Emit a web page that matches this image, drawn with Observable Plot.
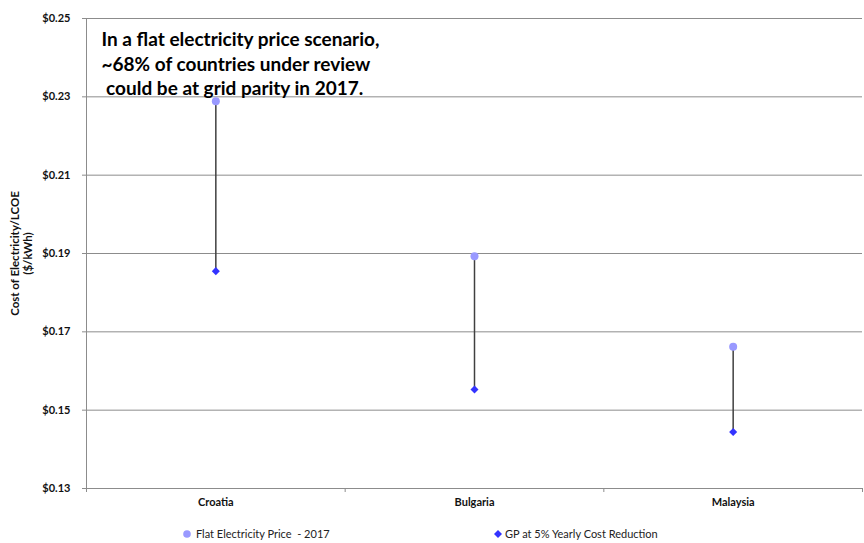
<!DOCTYPE html>
<html>
<head>
<meta charset="utf-8">
<script src="https://cdn.jsdelivr.net/npm/d3@7"></script>
<script src="https://cdn.jsdelivr.net/npm/@observablehq/plot@0.6"></script>
<style>
  body { margin: 0; background: #fff; font-family: Lato, "Open Sans", sans-serif; }
  #wrap { position: relative; width: 864px; }
  #legend { position: relative; width: 864px; height: 18px; font-size: 11px; color: #222; }
  #legend span { position: absolute; top: 0; line-height: 18px; white-space: pre; }
  .mk { display: inline-block; position: absolute; }
</style>
</head>
<body>
<div id="wrap"></div>
<div id="legend"></div>
<script>
const countries = ["Croatia", "Bulgaria", "Malaysia"];
const flatPrice2017 = [0.2289, 0.1893, 0.1662];
const gp5pct = [0.1855, 0.1553, 0.1444];
const yTicks = [0.13, 0.15, 0.17, 0.19, 0.21, 0.23, 0.25];
const seriesNames = ["Flat Electricity Price  - 2017", "GP at 5% Yearly Cost Reduction"];
const annotation = ["In a flat electricity price scenario,", "~68% of countries under review", "\u00a0could be at grid parity in 2017."];
const yLabel = ["Cost of Electricity/LCOE", "($/kWh)"];

const data = countries.map((c, i) => ({ i, country: c, flat: flatPrice2017[i], gp: gp5pct[i] }));
const bounds = d3.range(countries.length + 1).map(k => k - 0.5);

const chart = Plot.plot({
  width: 864,
  height: 525,
  marginLeft: 86,
  marginRight: 2,
  marginTop: 18,
  marginBottom: 37,
  style: { fontFamily: "Lato, sans-serif", fontSize: "11px", color: "#222", background: "#fff" },
  x: { type: "linear", domain: [-0.5, countries.length - 0.5] },
  y: { domain: [0.13, 0.25] },
  marks: [
    Plot.gridY(yTicks, { stroke: "#8c8c8c", strokeOpacity: 1, strokeWidth: 1 }),
    Plot.frame({ anchor: "left", stroke: "#8c8c8c" }),
    Plot.axisY(yTicks, { tickSize: 4, tickPadding: 12, tickFormat: d => "$" + d.toFixed(2), fontWeight: "bold", stroke: "#8c8c8c", label: null, fill: "#111" }),
    Plot.axisX(bounds, { tickSize: 4, stroke: "#8c8c8c", tickFormat: () => "", label: null }),
    Plot.axisX(data.map(d => d.i), { tickSize: 0, tickPadding: 10, tickFormat: i => countries[i], fontWeight: "bold", label: null, fill: "#111" }),
    Plot.ruleX(data, { x: "i", y1: "gp", y2: "flat", stroke: "#404040", strokeWidth: 1.5 }),
    Plot.dot(data, { x: "i", y: "flat", r: 4, fill: "#9999ff", stroke: "none" }),
    Plot.dot(data, { x: "i", y: "gp", r: 3.2, symbol: "square", rotate: 45, fill: "#3333ff", stroke: "none" }),
    Plot.text([annotation.join("\n")], {
      frameAnchor: "top-left", textAnchor: "start", lineAnchor: "top",
      dx: 15, dy: 10, fontSize: 19, fontWeight: "bold", lineHeight: 1.3, fill: "#000"
    }),
    Plot.text([yLabel.join("\n")], {
      frameAnchor: "left", rotate: -90, textAnchor: "middle", lineAnchor: "top",
      dx: -76, fontSize: 11.5, fontWeight: "bold", lineHeight: 1.1, fill: "#111"
    })
  ]
});
document.getElementById("wrap").appendChild(chart);

const legend = document.getElementById("legend");
legend.innerHTML = `
  <svg class="mk" style="left:183px;top:5px" width="8" height="8"><circle cx="4" cy="4" r="3.8" fill="#9999ff"/></svg>
  <span style="left:196px">${seriesNames[0]}</span>
  <svg class="mk" style="left:494px;top:5px" width="8" height="8"><path d="M4 0 L8 4 L4 8 L0 4 Z" fill="#3333ff"/></svg>
  <span style="left:505px">${seriesNames[1]}</span>
`;
</script>
</body>
</html>
